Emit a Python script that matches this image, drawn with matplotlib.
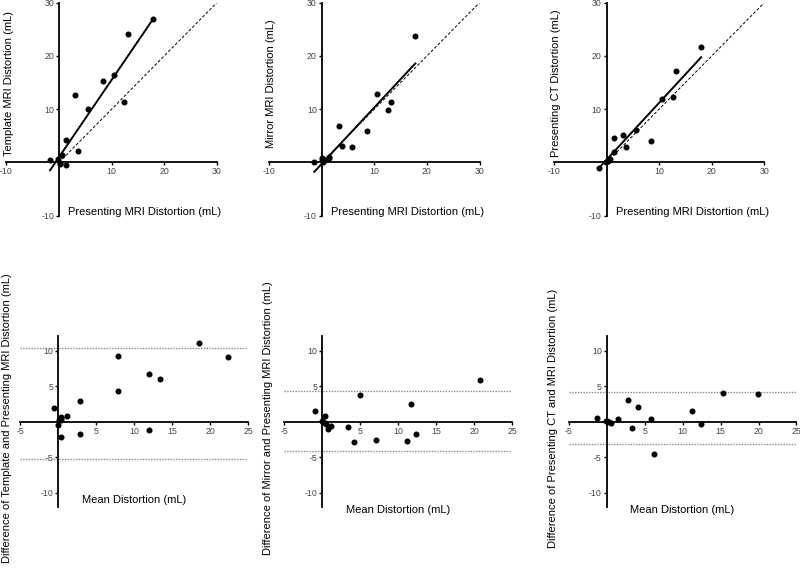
import numpy as np
import matplotlib
matplotlib.use('Agg')
import matplotlib.pyplot as plt

plt.rcParams['font.family'] = ['Liberation Sans', 'DejaVu Sans']
plt.rcParams['axes.unicode_minus'] = False

# top row: presenting MRI vs other measurement (mL)
p1_x = [-1.7, -0.2, 0.1, 0.2, 0.6, 1.3, 1.4, 3.0, 3.7, 5.6, 8.4, 10.5, 12.4, 13.1, 17.8]
p1_y = [0.4, 0.6, -0.1, -0.3, 1.4, 4.3, -0.5, 12.6, 2.1, 10.0, 15.3, 16.4, 11.3, 24.2, 26.9]
p1_fit = [1.45, 1.0]  # slope, intercept

p2_x = [-1.4, 0.0, 0.1, 0.3, 0.6, 1.3, 1.4, 3.2, 3.9, 5.7, 8.6, 10.5, 12.6, 13.1, 17.8]
p2_y = [0.0, 0.8, 0.4, 0.1, 0.4, 0.8, 1.0, 6.9, 3.1, 2.9, 5.9, 12.9, 9.8, 11.4, 23.7]
p2_fit = [1.06, -0.27]

p3_x = [-1.5, -0.05, 0.2, 0.45, 0.7, 1.4, 1.45, 3.2, 3.8, 5.6, 8.5, 10.6, 12.6, 13.2, 18.0]
p3_y = [-1.0, 0.1, 0.3, 0.4, 0.6, 4.5, 1.9, 5.2, 2.9, 6.1, 4.1, 11.9, 12.3, 17.2, 21.7]
p3_fit = [1.07, 0.5]

# bottom row: Bland-Altman (mean, difference) and limits of agreement
b1_mean = [-0.6, 0.0, 0.1, 0.3, 0.4, 0.35, 0.4, 1.1, 2.8, 2.9, 7.8, 7.8, 11.9, 11.9, 13.4, 18.6, 22.4]
b1_diff = [1.9, -0.5, 0.3, 0.5, 0.7, 0.2, -2.1, 0.8, 2.9, -1.7, 9.3, 4.3, 6.7, -1.2, 6.0, 11.1, 9.1]
b1_loa = [10.4, -5.3]

b2_mean = [-0.9, 0.0, 0.15, 0.3, 0.45, 0.35, 0.8, 1.2, 3.4, 4.2, 5.0, 7.1, 11.1, 11.7, 12.3, 20.8]
b2_diff = [1.45, 0.1, 0.0, -0.15, -0.35, 0.8, -1.0, -0.55, -0.75, -2.85, 3.75, -2.6, -2.7, 2.45, -1.7, 5.85]
b2_loa = [4.35, -4.1]

b3_mean = [-1.3, -0.1, 0.1, 0.3, 0.6, 1.55, 2.85, 3.3, 4.1, 5.8, 6.25, 11.2, 12.4, 15.3, 19.9]
b3_diff = [0.45, 0.15, 0.1, 0.0, -0.15, 0.4, 3.1, -0.95, 2.0, 0.35, -4.5, 1.45, -0.35, 4.0, 3.9]
b3_loa = [4.15, -3.2]

top_ylabels = ['Template MRI Distortion (mL)', 'Mirror MRI Distortion (mL)',
               'Presenting CT Distortion (mL)']
top_xlabel = 'Presenting MRI Distortion (mL)'
bot_ylabels = ['Difference of Template and Presenting MRI Distortion (mL)',
               'Difference of Mirror and Presenting MRI Distortion (mL)',
               'Difference of Presenting CT and MRI Distortion (mL)']
bot_xlabel = 'Mean Distortion (mL)'

W, H = 800, 569
fig = plt.figure(figsize=(W / 100, H / 100), dpi=100)


def cross_axes(x0, sx, xlim, ytop, ybot, ylim):
    # x0 = pixel of value 0, sx = px per unit
    left = x0 + xlim[0] * sx
    width = (xlim[1] - xlim[0]) * sx
    ax = fig.add_axes([left / W, 1 - ybot / H, width / W, (ybot - ytop) / H])
    ax.set_xlim(xlim)
    ax.set_ylim(ylim)
    ax.patch.set_alpha(0)
    for s in ['top', 'right']:
        ax.spines[s].set_visible(False)
    for s in ['left', 'bottom']:
        ax.spines[s].set_position(('data', 0))
        ax.spines[s].set_linewidth(1.3)
    ax.tick_params(direction='out', length=2.5, width=1.0, labelsize=6.3,
                   labelcolor='#444444', pad=1)
    return ax


top_x0 = [59, 321.7, 606.5]
top_data = [(p1_x, p1_y, p1_fit), (p2_x, p2_y, p2_fit), (p3_x, p3_y, p3_fit)]
for i in range(3):
    ax = cross_axes(top_x0[i], 5.26, (-10, 30), 2.7, 215.7, (-10, 30))
    ax.set_xticks([-10, 10, 20, 30])
    ax.set_yticks([-10, 10, 20, 30])
    x, y, fit = top_data[i]
    ax.plot([0, 30], [0, 30], color='black', lw=0.7, ls=(0, (3, 2)))
    xs = np.array([min(x), max(x)])
    ax.plot(xs, fit[0] * xs + fit[1], color='black', lw=1.4)
    ax.scatter(x, y, s=11, color='black', zorder=3, clip_on=False)
    ax.text(16.3, -9.3, top_xlabel, ha='center', va='center', fontsize=8)
    ax.text(-9.6, 14.8, top_ylabels[i], rotation=90, ha='center', va='center',
            fontsize=8, clip_on=False)

bot_x0 = [58.3, 322.3, 606.7]
bot_data = [(b1_mean, b1_diff, b1_loa), (b2_mean, b2_diff, b2_loa), (b3_mean, b3_diff, b3_loa)]
bot_xl_y = [-11.0, -12.4, -12.4]
bot_yl_x = [-6.8, -7.1, -7.1]
for i in range(3):
    ax = cross_axes(bot_x0[i], 7.59, (-5, 25), 336.3, 507.1, (-12, 12))
    ax.set_xticks([-5, 5, 10, 15, 20, 25])
    ax.set_yticks([-10, -5, 5, 10])
    m, d, loa = bot_data[i]
    for v in loa:
        ax.axhline(v, color='#888888', lw=1.0, ls=(0, (1, 1)))
    ax.scatter(m, d, s=11, color='black', zorder=3, clip_on=False)
    ax.text(10, bot_xl_y[i], bot_xlabel, ha='center', va='center', fontsize=8)
    ax.text(bot_yl_x[i], 0.5, bot_ylabels[i], rotation=90, ha='center', va='center',
            fontsize=8, clip_on=False)

fig.savefig('out.png', dpi=100)
